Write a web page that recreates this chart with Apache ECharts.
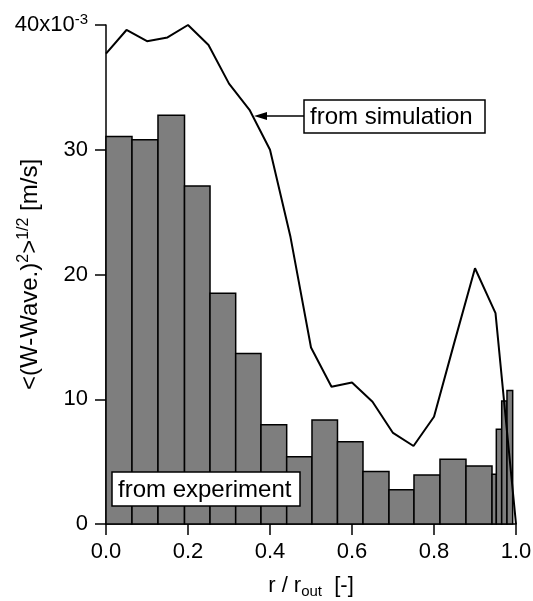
<!DOCTYPE html>
<html>
<head>
<meta charset="utf-8">
<script src="https://cdn.jsdelivr.net/npm/echarts@6/dist/echarts.min.js"></script>
<style>
html,body{margin:0;padding:0;background:#fff;}
#chart{width:533px;height:601px;}
</style>
</head>
<body>
<div id="chart"></div>
<script>
// ---- data ----
const binEdges = [0, 0.0634, 0.1268, 0.1915, 0.2537, 0.3163, 0.378, 0.4407, 0.5024, 0.5646,
  0.6268, 0.6902, 0.7512, 0.8146, 0.878, 0.9415, 0.952, 0.9651, 0.978, 0.9919];
const expValues = [31.06, 30.8, 32.77, 27.1, 18.5, 13.67, 7.95, 5.4, 8.33, 6.6,
  4.2, 2.75, 3.92, 5.2, 4.64, 3.98, 7.6, 9.85, 10.7];
const simR = [0, 0.05, 0.1, 0.15, 0.2, 0.25, 0.3, 0.35, 0.4, 0.45, 0.5,
  0.55, 0.6, 0.65, 0.7, 0.75, 0.8, 0.85, 0.9, 0.95, 1.0];
const simValues = [37.7, 39.6, 38.7, 39.0, 40.0, 38.4, 35.3, 33.2, 30.0, 23.0, 14.15,
  11.0, 11.35, 9.8, 7.3, 6.25, 8.6, 14.6, 20.5, 16.9, 0];
const xTicks = ['0.0', '0.2', '0.4', '0.6', '0.8', '1.0'];
const yTicks = ['0', '10', '20', '30', '40'];
const simArrowTarget = [0.361, 32.7];

const FONT = "'Liberation Sans', Arial, Helvetica, sans-serif";

const barData = expValues.map((v, i) => [binEdges[i], binEdges[i + 1], v]);
const lineData = simR.map((r, i) => [r, simValues[i]]);

const chart = echarts.init(document.getElementById('chart'), null, {renderer: 'canvas'});

chart.setOption({
  animation: false,
  backgroundColor: '#ffffff',
  grid: {left: 106, right: 17, top: 25, bottom: 77, containLabel: false, outerBoundsMode: 'none'},
  xAxis: {
    type: 'value', min: 0, max: 1, interval: 0.2,
    axisLine: {show: true, lineStyle: {color: '#000', width: 1.5}},
    axisTick: {show: true, length: 11, lineStyle: {color: '#000', width: 1.5}},
    splitLine: {show: false},
    axisLabel: {
      color: '#000', fontFamily: FONT, fontSize: 22, margin: 17,
      formatter: v => xTicks[Math.round(v / 0.2)]
    },
    name: '{t|r / r}{sub|out}{t|  [-]}',
    nameLocation: 'middle', nameGap: 49, nameMoveOverlap: false,
    nameTextStyle: {
      color: '#000', fontFamily: FONT,
      rich: {
        t: {fontSize: 22, fontFamily: FONT, color: '#000', lineHeight: 26},
        sub: {fontSize: 15, fontFamily: FONT, color: '#000', verticalAlign: 'bottom', lineHeight: 26, padding: [6, 0, 0, 0]}
      }
    }
  },
  yAxis: {
    type: 'value', min: 0, max: 40, interval: 10,
    axisLine: {show: true, lineStyle: {color: '#000', width: 1.5}},
    axisTick: {show: true, length: 11, lineStyle: {color: '#000', width: 1.5}},
    splitLine: {show: false},
    axisLabel: {
      color: '#000', fontFamily: FONT, fontSize: 22, margin: 18,
      formatter: function (v) {
        const s = yTicks[Math.round(v / 10)];
        return v === 40 ? '{a|' + s + 'x10}{sup|-3}' : '{a|' + s + '}';
      },
      rich: {
        a: {fontSize: 22, fontFamily: FONT, color: '#000', lineHeight: 26},
        sup: {fontSize: 15, fontFamily: FONT, color: '#000', verticalAlign: 'top', lineHeight: 26, padding: [0, 0, 10, 0]}
      }
    },
    name: '{t|<(W-Wave.)}{s|2}{t|>}{s|1/2}{t| [m/s]}',
    nameLocation: 'middle', nameGap: 62, nameRotate: 90, nameMoveOverlap: false,
    nameTextStyle: {
      color: '#000', fontFamily: FONT,
      rich: {
        t: {fontSize: 24, fontFamily: FONT, color: '#000', lineHeight: 28},
        s: {fontSize: 16, fontFamily: FONT, color: '#000', verticalAlign: 'top', lineHeight: 28, padding: [0, 0, 10, 0]}
      }
    }
  },
  series: [
    {
      type: 'custom',
      z: 2,
      data: barData,
      encode: {x: [0, 1], y: 2},
      renderItem: function (params, api) {
        const p0 = api.coord([api.value(0), api.value(2)]);
        const p1 = api.coord([api.value(1), 0]);
        return {
          type: 'rect',
          shape: {x: p0[0], y: p0[1], width: p1[0] - p0[0], height: p1[1] - p0[1]},
          style: {fill: '#7e7e7e', stroke: '#000', lineWidth: 1.5}
        };
      }
    },
    {
      type: 'line',
      z: 3,
      data: lineData,
      symbol: 'none',
      lineStyle: {color: '#000', width: 2},
      clip: false
    }
  ]
});

const tip = chart.convertToPixel({gridIndex: 0}, simArrowTarget);
const boxY = tip[1] - 16;
chart.setOption({
  graphic: [
    {type: 'rect', z: 10, shape: {x: 304, y: boxY, width: 181, height: 33},
     style: {fill: '#fff', stroke: '#000', lineWidth: 1.5}},
    {type: 'text', z: 11, x: 310, y: boxY + 17,
     style: {text: 'from simulation', font: '24px ' + FONT, fill: '#000', verticalAlign: 'middle'}},
    {type: 'line', z: 10, shape: {x1: 304, y1: tip[1], x2: tip[0] + 8, y2: tip[1]},
     style: {stroke: '#000', lineWidth: 1.5}},
    {type: 'polygon', z: 10, shape: {points: [[tip[0], tip[1]], [tip[0] + 13, tip[1] - 4], [tip[0] + 13, tip[1] + 4]]},
     style: {fill: '#000'}},
    {type: 'rect', z: 10, shape: {x: 112, y: 472, width: 188, height: 34},
     style: {fill: '#fff', stroke: '#000', lineWidth: 1.5}},
    {type: 'text', z: 11, x: 118, y: 490,
     style: {text: 'from experiment', font: '24px ' + FONT, fill: '#000', verticalAlign: 'middle'}}
  ]
});
</script>
</body>
</html>
